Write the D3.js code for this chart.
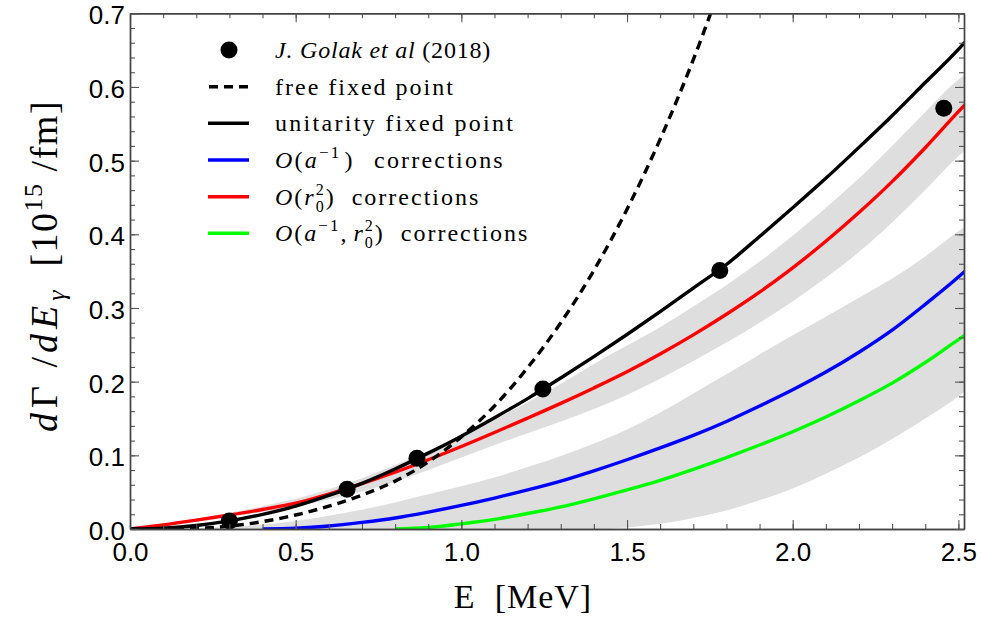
<!DOCTYPE html>
<html><head><meta charset="utf-8">
<script src="https://cdn.jsdelivr.net/npm/d3@7"></script>
<style>
body{margin:0;background:#fff;}
svg{display:block;}
</style></head><body>
<svg id="chart" width="982" height="623"></svg>
<script>
// ---------- data ----------
const energy = [0,0.1,0.2,0.3,0.4,0.5,0.6,0.7,0.8,0.9,1.0,1.1,1.2,1.3,1.4,1.5,1.6,1.7,1.8,1.9,2.0,2.1,2.2,2.3,2.4,2.5,2.52];
const unitarity = [0,0.0012,0.0048,0.011,0.0198,0.031,0.0455,0.062,0.0815,0.103,0.126,0.151,0.177,0.205,0.234,0.264,0.295,0.327,0.359,0.397,0.436,0.476,0.518,0.561,0.606,0.651,0.661];
const freeFixed = [0,0,0.0008,0.004,0.010,0.019,0.031,0.046,0.065,0.091,0.125,0.167,0.219,0.280,0.351,0.434,0.529,0.637,0.760];
const corrR0 = [0,0.0055,0.012,0.019,0.0265,0.035,0.0475,0.0615,0.077,0.094,0.112,0.131,0.1505,0.1705,0.1915,0.2135,0.2375,0.2635,0.2915,0.3215,0.3545,0.3905,0.4295,0.4715,0.5175,0.5665,0.576];
const corrR0Low = [0,0.005,0.010,0.016,0.023,0.030,0.040,0.051,0.064,0.080,0.097,0.114,0.130,0.146,0.163,0.182,0.204,0.228,0.253,0.280,0.309,0.341,0.376,0.416,0.460,0.506,0.514];
const corrR0High = [0,0.006,0.0135,0.022,0.031,0.041,0.054,0.069,0.087,0.106,0.127,0.149,0.172,0.197,0.224,0.249,0.274,0.302,0.331,0.363,0.398,0.436,0.476,0.520,0.566,0.610,0.617];
const corrA = [null,null,null,null,0,0.001,0.004,0.009,0.015,0.023,0.032,0.042,0.053,0.065,0.079,0.094,0.110,0.127,0.146,0.167,0.189,0.213,0.240,0.270,0.305,0.342,0.350];
const corrAR0 = [null,null,null,null,null,null,null,null,0,0.002,0.007,0.013,0.021,0.030,0.041,0.053,0.066,0.081,0.097,0.114,0.132,0.152,0.174,0.198,0.226,0.257,0.263];
const bandAHigh = [0,0.0002,0.001,0.003,0.006,0.011,0.018,0.026,0.036,0.047,0.058,0.070,0.084,0.099,0.116,0.135,0.158,0.184,0.210,0.237,0.263,0.288,0.314,0.340,0.370,0.404,0.410];
const bandALow = [0,0,0,0,0,0,0,0,0,0,0,0,0,0,0,0.002,0.007,0.015,0.025,0.039,0.055,0.075,0.097,0.122,0.150,0.180,0.187];
const golakE = [0.30,0.655,0.866,1.246,1.78,2.456];
const golakRate = [0.011,0.054,0.096,0.19,0.351,0.571];
const xTicks = [0,0.5,1.0,1.5,2.0,2.5];
const xTickLabels = ["0.0","0.5","1.0","1.5","2.0","2.5"];
const yTicks = [0,0.1,0.2,0.3,0.4,0.5,0.6,0.7];
const yTickLabels = ["0.0","0.1","0.2","0.3","0.4","0.5","0.6","0.7"];

// ---------- layout ----------
const svg = d3.select("#chart");
const L = 130, R = 964, T = 13.3, B = 529;
const x = d3.scaleLinear().domain([0, 2.517]).range([L, R]);
const y = d3.scaleLinear().domain([0, 0.7]).range([B, T]);

svg.append("defs").append("clipPath").attr("id","clip")
  .append("rect").attr("x",L).attr("y",T).attr("width",R-L).attr("height",B-T);

const plot = svg.append("g").attr("clip-path","url(#clip)");
const idx = d3.range(energy.length);

function band(lo, hi){
  return d3.area().curve(d3.curveMonotoneX)
    .x(i=>x(energy[i])).y0(i=>y(lo[i])).y1(i=>y(hi[i]));
}
const bandColor = "#dedede";
plot.append("path").attr("d", band(bandALow, bandAHigh)(idx)).attr("fill", bandColor);
plot.append("path").attr("d", band(corrR0Low, corrR0High)(idx)).attr("fill", bandColor);

function lineOf(vals){
  return d3.line().curve(d3.curveMonotoneX)
    .defined(i=>vals[i]!==null && vals[i]!==undefined)
    .x(i=>x(energy[i])).y(i=>y(vals[i]));
}
const lw = 3.4;
plot.append("path").attr("d", lineOf(corrAR0)(idx)).attr("fill","none").attr("stroke","#00ff00").attr("stroke-width",lw);
plot.append("path").attr("d", lineOf(corrA)(idx)).attr("fill","none").attr("stroke","#0000ff").attr("stroke-width",lw);
plot.append("path").attr("d", lineOf(corrR0)(idx)).attr("fill","none").attr("stroke","#ff0000").attr("stroke-width",lw);
plot.append("path").attr("d", lineOf(freeFixed)(d3.range(freeFixed.length))).attr("fill","none")
  .attr("stroke","#000").attr("stroke-width",lw).attr("stroke-dasharray","9,6");
plot.append("path").attr("d", lineOf(unitarity)(idx)).attr("fill","none").attr("stroke","#000").attr("stroke-width",lw);

plot.selectAll("circle.pt").data(golakE).enter().append("circle").attr("class","pt")
  .attr("cx",(d)=>x(d)).attr("cy",(d,i)=>y(golakRate[i])).attr("r",8.5).attr("fill","#000");

// ---------- axes ----------
const xMinor = d3.range(0, 2.55, 0.1).map(v=>+v.toFixed(2));
const yMinor = d3.range(0, 0.701, 0.02).map(v=>+v.toFixed(2));
const axisColor = "#444";
function styleAxis(g){
  g.selectAll(".domain").attr("stroke", axisColor).attr("stroke-width",1.4);
  g.selectAll(".tick line").attr("stroke", "#555").attr("stroke-width",1.1);
  g.selectAll(".tick text").attr("fill","#000").style("font-family","'Liberation Sans', Arial, sans-serif").style("font-size","26px");
}
// bottom
svg.append("g").attr("transform",`translate(0,${B})`)
  .call(d3.axisBottom(x).tickValues(xMinor).tickSize(-5).tickFormat("").tickSizeOuter(0)).call(styleAxis);
svg.append("g").attr("transform",`translate(0,${B})`)
  .call(d3.axisBottom(x).tickValues(xTicks).tickSize(-9).tickPadding(14).tickFormat((d,i)=>xTickLabels[i]).tickSizeOuter(0)).call(styleAxis);
// top
svg.append("g").attr("transform",`translate(0,${T})`)
  .call(d3.axisTop(x).tickValues(xMinor).tickSize(-5).tickFormat("").tickSizeOuter(0)).call(styleAxis);
svg.append("g").attr("transform",`translate(0,${T})`)
  .call(d3.axisTop(x).tickValues(xTicks).tickSize(-9).tickFormat("").tickSizeOuter(0)).call(styleAxis);
// left
svg.append("g").attr("transform",`translate(${L},0)`)
  .call(d3.axisLeft(y).tickValues(yMinor).tickSize(-5).tickFormat("").tickSizeOuter(0)).call(styleAxis);
const yAx = svg.append("g").attr("transform",`translate(${L},0)`)
  .call(d3.axisLeft(y).tickValues(yTicks).tickSize(-9).tickPadding(5).tickFormat((d,i)=>yTickLabels[i]).tickSizeOuter(0)).call(styleAxis);
yAx.selectAll(".tick text").attr("dy","0.4em");
// right
svg.append("g").attr("transform",`translate(${R},0)`)
  .call(d3.axisRight(y).tickValues(yMinor).tickSize(-5).tickFormat("").tickSizeOuter(0)).call(styleAxis);
svg.append("g").attr("transform",`translate(${R},0)`)
  .call(d3.axisRight(y).tickValues(yTicks).tickSize(-9).tickFormat("").tickSizeOuter(0)).call(styleAxis);

// ---------- rich text helper ----------
const serif = "'Liberation Serif', 'Times New Roman', serif";
function rich(parent, parts, size){
  const t = parent.append("text").style("font-family", serif).style("font-size", size+"px")
    .attr("fill","#000").attr("xml:space","preserve");
  parts.forEach(p=>{
    const s = t.append("tspan").text(p.t);
    if(p.i) s.style("font-style","italic");
    if(p.fs) s.style("font-size", p.fs+"px");
    if(p.dy) s.attr("dy", p.dy);
    if(p.dx) s.attr("dx", p.dx);
    if(p.ls!==undefined) s.style("letter-spacing", p.ls+"px");
  });
  return t;
}

// ---------- axis titles ----------
rich(svg, [{t:"E"},{t:"\u00a0\u00a0[MeV]"}], 34)
  .attr("x", 523).attr("y", 608).attr("text-anchor","middle").style("letter-spacing","1px");
rich(svg, [
  {t:"d", i:true, ls:5},{t:"Γ", ls:5},{t:" /", ls:4},{t:"dE", i:true, ls:5},
  {t:"γ", i:true, fs:26, dy:8, ls:2},
  {t:"\u00a0\u00a0[10", dy:-8, ls:1.5},{t:"15", fs:26, dy:-15, ls:1.5},{t:" /fm]", dy:15, ls:1.5}
], 38).attr("text-anchor","middle")
  .attr("transform","translate(57,266) rotate(-90)");

// ---------- legend ----------
const legendNames = ["J. Golak et al (2018)","free fixed point","unitarity fixed point","O(a^-1) corrections","O(r0^2) corrections","O(a^-1, r0^2) corrections"];
const legendRows = [50, 86.7, 123.3, 160, 196.7, 233.3];
const lg = svg.append("g");
const sx0 = 208, sx1 = 249, tx = 275, fs = 24;
lg.append("circle").attr("cx",229).attr("cy",legendRows[0]).attr("r",8.5).attr("fill","#000");
lg.append("line").attr("x1",sx0).attr("x2",sx1).attr("y1",legendRows[1]).attr("y2",legendRows[1])
  .attr("stroke","#000").attr("stroke-width",lw).attr("stroke-dasharray","9,6").attr("stroke-dashoffset",-1);
[["#000",2],["#0000ff",3],["#ff0000",4],["#00ff00",5]].forEach(([c,k])=>{
  lg.append("line").attr("x1",sx0).attr("x2",sx1).attr("y1",legendRows[k]).attr("y2",legendRows[k])
    .attr("stroke",c).attr("stroke-width",lw);
});
const base = 8;
const rowSpacing = [0.8, 2.0, 2.3, 2.2, 2.0, 2.0];
const texts = [
  [{t:"J. Golak et al", i:true},{t:" (2018)"}],
  [{t:"free fixed point"}],
  [{t:"unitarity fixed point"}],
  [{t:"O", i:true},{t:"("},{t:"a", i:true},{t:"−1", fs:17, dy:-10},{t:")", dy:10, dx:3},{t:"\u00a0\u00a0corrections", dx:3}],
  [{t:"O", i:true},{t:"("},{t:"r", i:true},{t:"2", fs:16, dy:-10},{t:"0", fs:16, dy:17, dx:-10},{t:")", dy:-7},{t:"\u00a0\u00a0corrections"}],
  [{t:"O", i:true},{t:"("},{t:"a", i:true},{t:"−1", fs:17, dy:-10},{t:",", dy:10},{t:"r", i:true, dx:5},{t:"2", fs:16, dy:-10},{t:"0", fs:16, dy:17, dx:-10},{t:")", dy:-7},{t:"\u00a0\u00a0corrections"}]
];
texts.forEach((parts,k)=>{
  rich(lg, parts, fs).attr("x", tx).attr("y", legendRows[k]+base).style("letter-spacing", rowSpacing[k]+"px");
});
</script>
</body></html>
